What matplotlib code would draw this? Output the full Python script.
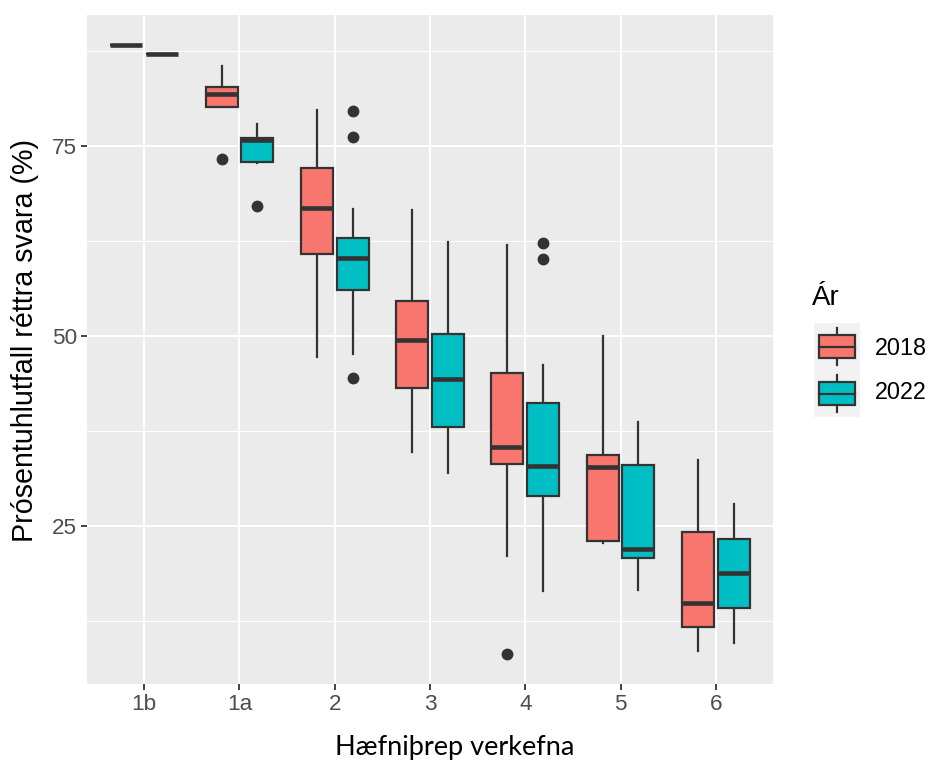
import matplotlib
matplotlib.use("Agg")
import matplotlib.pyplot as plt
from matplotlib.patches import Rectangle

plt.rcParams['font.family'] = ['Liberation Sans', 'DejaVu Sans']

# data (percent correct, per skill level)
levels = ["1b", "1a", "2", "3", "4", "5", "6"]
years = ["2018", "2022"]
colors = ["#F8766D", "#00BFC4"]

lo_2018 = [88.2, 80.1, 47.2, 34.7, 21.0, 22.7, 8.6]
q1_2018 = [88.2, 80.1, 60.7, 43.2, 33.2, 23.0, 11.7]
med_2018 = [88.2, 81.8, 66.8, 49.5, 35.4, 32.8, 14.8]
q3_2018 = [88.2, 82.7, 72.1, 54.6, 45.1, 34.3, 24.2]
hi_2018 = [88.2, 85.5, 79.7, 66.6, 62.0, 50.0, 33.6]
out_2018 = [[], [73.3], [], [], [8.2], [], []]

lo_2022 = [87.1, 72.7, 47.6, 32.0, 16.4, 16.6, 9.6]
q1_2022 = [87.1, 72.9, 56.0, 38.0, 28.9, 20.8, 14.2]
med_2022 = [87.1, 75.8, 60.2, 44.3, 32.9, 21.9, 18.8]
q3_2022 = [87.1, 76.0, 62.9, 50.3, 41.2, 33.0, 23.3]
hi_2022 = [87.1, 77.8, 66.7, 62.4, 46.1, 38.6, 27.9]
out_2022 = [[], [67.1], [44.4, 76.1, 79.6], [], [60.1, 62.2], [], []]

EDGE = "#333333"
DODGE = 0.375
BOXW = 0.3375


def stats(lo, q1, med, q3, hi, out):
    return [dict(whislo=a, q1=b, med=c, q3=d, whishi=e, fliers=f)
            for a, b, c, d, e, f in zip(lo, q1, med, q3, hi, out)]


fig = plt.figure(figsize=(9.31, 7.66), dpi=100)
ax = fig.add_axes([87/931, 1-684/766, (773-87)/931, (684-15)/766])
ax.set_facecolor("#EBEBEB")

groups = [
    stats(lo_2018, q1_2018, med_2018, q3_2018, hi_2018, out_2018),
    stats(lo_2022, q1_2022, med_2022, q3_2022, hi_2022, out_2022),
]
x = range(1, len(levels) + 1)
for k, (st, col) in enumerate(zip(groups, colors)):
    pos = [i + (k - 0.5) * DODGE for i in x]
    bp = ax.bxp(st, positions=pos, widths=BOXW, patch_artist=True,
                showcaps=False, manage_ticks=False,
                boxprops=dict(facecolor=col, edgecolor=EDGE, linewidth=1.6),
                medianprops=dict(color=EDGE, linewidth=3.3, solid_capstyle="butt"),
                whiskerprops=dict(color=EDGE, linewidth=1.6),
                flierprops=dict(marker="o", markerfacecolor=EDGE,
                                markeredgecolor=EDGE, markersize=7.5))
    for b in bp["boxes"]:
        b.set_zorder(3)
    for m in bp["medians"]:
        m.set_zorder(4)

# y range like ggplot: data range plus 5 %
allv = lo_2018 + lo_2022 + hi_2018 + hi_2022 + sum(out_2018 + out_2022, [])
vmin, vmax = min(allv), max(allv)
pad = 0.05 * (vmax - vmin)
ax.set_ylim(vmin - pad, vmax + pad)
ax.set_xlim(0.4, len(levels) + 0.6)

ax.set_xticks(list(x))
ax.set_xticklabels(levels)
ax.set_yticks([25, 50, 75])
ax.set_yticks([12.5, 37.5, 62.5, 87.5], minor=True)
ax.grid(which="major", color="white", linewidth=1.4)
ax.grid(which="minor", axis="y", color="white", linewidth=0.7)
ax.set_axisbelow(True)
for s in ax.spines.values():
    s.set_visible(False)
ax.tick_params(which="major", length=4, width=1.3, color=EDGE,
               labelsize=16.2, labelcolor="#4D4D4D", pad=3)
ax.tick_params(which="minor", length=0)

fig.text(455/931, 1-748/766, "Hæfniþrep verkefna", ha="center", va="center",
         fontsize=19.5, family=["Lato", "DejaVu Sans"])
fig.text(25/931, 1-340/766, "Prósentuhlutfall réttra svara (%)", ha="center",
         va="center", rotation=90, fontsize=20.6)

# legend
fig.text(812/931, 1-298/766, "Ár", ha="left", va="center", fontsize=20)
lax = fig.add_axes([814/931, 1-417/766, 46/931, 94/766])
lax.set_xlim(0, 1)
lax.set_ylim(0, 2)
lax.axis("off")
lax.add_patch(Rectangle((0, 0), 1, 2, facecolor="#F2F2F2", edgecolor="none"))
for k, (yr, col) in enumerate(zip(years, colors)):
    base = 1 - k
    lax.plot([0.5, 0.5], [base + 0.1, base + 0.9], color=EDGE, lw=1.6)
    lax.add_patch(Rectangle((0.1, base + 0.25), 0.8, 0.5, facecolor=col,
                            edgecolor=EDGE, lw=1.6, zorder=3))
    lax.plot([0.1, 0.9], [base + 0.5, base + 0.5], color=EDGE, lw=1.6, zorder=4)
    fig.text(875/931, 1-(348 + 45*k)/766, yr, ha="left", va="center",
             fontsize=16.8)

fig.savefig("out.png", dpi=100)
